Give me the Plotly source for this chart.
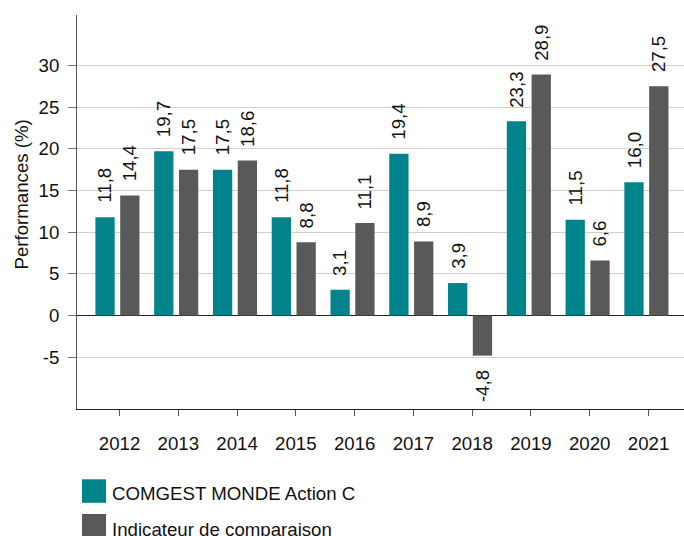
import plotly.graph_objects as go

years = ["2012", "2013", "2014", "2015", "2016", "2017", "2018", "2019", "2020", "2021"]
fund = [11.8, 19.7, 17.5, 11.8, 3.1, 19.4, 3.9, 23.3, 11.5, 16.0]
bench = [14.4, 17.5, 18.6, 8.8, 11.1, 8.9, -4.8, 28.9, 6.6, 27.5]
series_names = ["COMGEST MONDE Action C", "Indicateur de comparaison"]
y_ticks = [-5, 0, 5, 10, 15, 20, 25, 30]

TEAL = "#00838a"
GRAY = "#595959"
FONT = "Liberation Sans, Arial, sans-serif"
FS = 18.67
colors = [TEAL, GRAY]
offsets = [-0.247, 0.175]
W = 0.328

H_PLOT = 394.0
W_PLOT = 607.0
def px(X):
    return (X - 77) / W_PLOT
def py(Y):
    return (409 - Y) / H_PLOT

idx = list(range(len(years)))
fig = go.Figure()
annotations = []
for vals, name, col, off in zip([fund, bench], series_names, colors, offsets):
    xs = [i + off for i in idx]
    fig.add_trace(go.Bar(x=xs, y=vals, width=W, marker=dict(color=col, line=dict(width=0)),
                         name=name, showlegend=False))
    for x, v in zip(xs, vals):
        lab = f"{v:.1f}".replace(".", ",")
        annotations.append(dict(x=x, y=v, xref="x", yref="y", text=lab, showarrow=False,
                                textangle=-90, font=dict(size=FS, color="#111", family=FONT),
                                yanchor="bottom" if v >= 0 else "top",
                                yshift=12 if v >= 0 else -12, xanchor="center"))

# y axis title
annotations.append(dict(x=px(20.5), y=py(195), xref="paper", yref="paper", text="Performances (%)",
                        showarrow=False, textangle=-90, xanchor="center", yanchor="middle",
                        font=dict(size=FS, color="#111", family=FONT)))

shapes = []
leg_rows = [(479.3, 493.5), (514.0, 529.0)]
for (top, tc), name, col in zip(leg_rows, series_names, colors):
    shapes.append(dict(type="rect", xref="paper", yref="paper", x0=px(82), x1=px(106),
                       y0=py(top), y1=py(top + 23.5), fillcolor=col, line=dict(width=0)))
    annotations.append(dict(x=px(109.5), y=py(tc), xref="paper", yref="paper", text=name,
                            showarrow=False, xanchor="left", yanchor="middle",
                            font=dict(size=FS, color="#111", family=FONT)))

fig.update_layout(
    width=684, height=536,
    margin=dict(l=77, r=0, t=15, b=127),
    paper_bgcolor="white", plot_bgcolor="white",
    barmode="overlay",
    showlegend=False,
    font=dict(family=FONT, size=FS, color="#111"),
    annotations=annotations,
    shapes=shapes,
    xaxis=dict(range=[-0.724, 9.604], tickmode="array", tickvals=idx, ticktext=years,
               showgrid=False, zeroline=False, showline=True, linecolor="#222", linewidth=1,
               ticks="outside", ticklen=6, tickcolor="#555", tickwidth=1,
               tickfont=dict(size=FS, color="#111", family=FONT), ticklabelstandoff=12),
    yaxis=dict(range=[-11.2, 36.05], tickmode="array", tickvals=y_ticks,
               ticktext=[str(t) for t in y_ticks],
               showgrid=True, gridcolor="#d0d0d0", gridwidth=1,
               zeroline=True, zerolinecolor="#222", zerolinewidth=1.3,
               showline=True, linecolor="#555", linewidth=1,
               ticks="outside", ticklen=8, tickcolor="#777", tickwidth=1,
               tickfont=dict(size=FS, color="#111", family=FONT), ticklabelstandoff=5),
)

fig.write_html("out.html")
